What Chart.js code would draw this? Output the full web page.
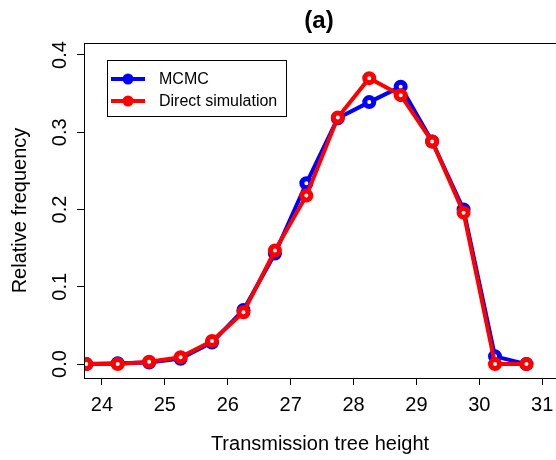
<!DOCTYPE html>
<html>
<head>
<meta charset="utf-8">
<script src="https://cdn.jsdelivr.net/npm/chart.js@4"></script>
<style>
  html, body { margin: 0; padding: 0; background: #fff; }
  #wrap { width: 556px; height: 460px; }
</style>
</head>
<body>
<div id="wrap"><canvas id="freqChart" width="556" height="460"></canvas></div>
<script>
// values
const heights = [23.75, 24.25, 24.75, 25.25, 25.75, 26.25, 26.75, 27.25, 27.75, 28.25, 28.75, 29.25, 29.75, 30.25, 30.75];
const mcmc    = [0.000, 0.001, 0.002, 0.007, 0.028, 0.070, 0.143, 0.234, 0.318, 0.339, 0.359, 0.288, 0.200, 0.010, 0.000];
const direct  = [0.000, 0.000, 0.003, 0.009, 0.030, 0.067, 0.147, 0.218, 0.319, 0.370, 0.348, 0.288, 0.196, 0.000, 0.000];
const xTicks = [24, 25, 26, 27, 28, 29, 30, 31];
const yTicks = [0.0, 0.1, 0.2, 0.3, 0.4];
const seriesNames = ['MCMC', 'Direct simulation'];

const FONT = '"Liberation Sans", Arial, sans-serif';

function toPoints(xs, ys) {
  return xs.map((x, i) => ({ x: x, y: ys[i] }));
}

// box, rotated y labels, title, legend (R base graphics look)
const rStyle = {
  id: 'rStyle',
  afterDraw(chart) {
    const ctx = chart.ctx;
    const a = chart.chartArea;
    const ys = chart.scales.y;
    ctx.save();
    ctx.strokeStyle = '#000';
    ctx.lineWidth = 1;
    ctx.strokeRect(a.left + 0.5, a.top + 0.5, a.right - a.left, a.bottom - a.top);

    // y tick labels, parallel to the axis
    ctx.fillStyle = '#000';
    ctx.font = '20px ' + FONT;
    ctx.textAlign = 'center';
    ctx.textBaseline = 'middle';
    yTicks.forEach(v => {
      const py = ys.getPixelForValue(v);
      ctx.save();
      ctx.translate(60, py);
      ctx.rotate(-Math.PI / 2);
      ctx.fillText(v.toFixed(1), 0, 0);
      ctx.restore();
    });

    // title
    ctx.font = 'bold 24px ' + FONT;
    ctx.fillText('(a)', 319, 21);

    // legend
    const lx = 107, ly = 60, lw = 179, lh = 56;
    ctx.fillStyle = '#fff';
    ctx.fillRect(lx, ly, lw, lh);
    ctx.strokeRect(lx + 0.5, ly + 0.5, lw, lh);
    ctx.font = '16px ' + FONT;
    ctx.textAlign = 'left';
    chart.data.datasets.forEach((ds, i) => {
      const yy = 79 + i * 22;
      ctx.strokeStyle = ds.borderColor;
      ctx.lineWidth = 4;
      ctx.beginPath();
      ctx.moveTo(111, yy);
      ctx.lineTo(145, yy);
      ctx.stroke();
      ctx.fillStyle = ds.borderColor;
      ctx.beginPath();
      ctx.arc(128, yy, 5.5, 0, Math.PI * 2);
      ctx.fill();
      ctx.fillStyle = '#000';
      ctx.fillText(ds.label, 159, yy + 1);
    });
    ctx.restore();
  }
};

new Chart(document.getElementById('freqChart'), {
  type: 'line',
  data: {
    datasets: [{
      label: seriesNames[0],
      data: toPoints(heights, mcmc),
      borderColor: '#0000ff',
      backgroundColor: '#ffffff',
      borderWidth: 4,
      pointRadius: 4.5,
      pointBorderWidth: 5,
      order: 1
    }, {
      label: seriesNames[1],
      data: toPoints(heights, direct),
      borderColor: '#ff0000',
      backgroundColor: '#ffffff',
      borderWidth: 4,
      pointRadius: 4.5,
      pointBorderWidth: 5,
      order: 0
    }]
  },
  plugins: [rStyle],
  options: {
    responsive: false,
    animation: false,
    layout: { autoPadding: false, padding: { top: 43, right: 0, left: 0, bottom: 0 } },
    plugins: {
      legend: { display: false },
      tooltip: { enabled: false }
    },
    scales: {
      x: {
        type: 'linear',
        min: 23.714,
        max: 31.22,
        afterBuildTicks: s => { s.ticks = xTicks.map(v => ({ value: v })); },
        afterFit: s => { s.height = 82; s.paddingLeft = 0; s.paddingRight = 0; },
        grid: { drawOnChartArea: false, drawTicks: true, tickLength: 7, color: '#000' },
        border: { display: false },
        ticks: { color: '#000', padding: 8, maxRotation: 0, font: { family: FONT, size: 20 } },
        title: { display: true, text: 'Transmission tree height', color: '#000', padding: { top: 8 }, font: { family: FONT, size: 20 } }
      },
      y: {
        type: 'linear',
        min: -0.018,
        max: 0.4155,
        afterBuildTicks: s => { s.ticks = yTicks.map(v => ({ value: v })); },
        afterFit: s => { s.width = 84; s.paddingTop = 0; s.paddingBottom = 0; },
        grid: { drawOnChartArea: false, drawTicks: true, tickLength: 7, color: '#000' },
        border: { display: false },
        ticks: { display: false },
        title: { display: true, text: 'Relative frequency', color: '#000', padding: { top: 8, bottom: 0 }, font: { family: FONT, size: 20 } }
      }
    }
  }
});
</script>
</body>
</html>
